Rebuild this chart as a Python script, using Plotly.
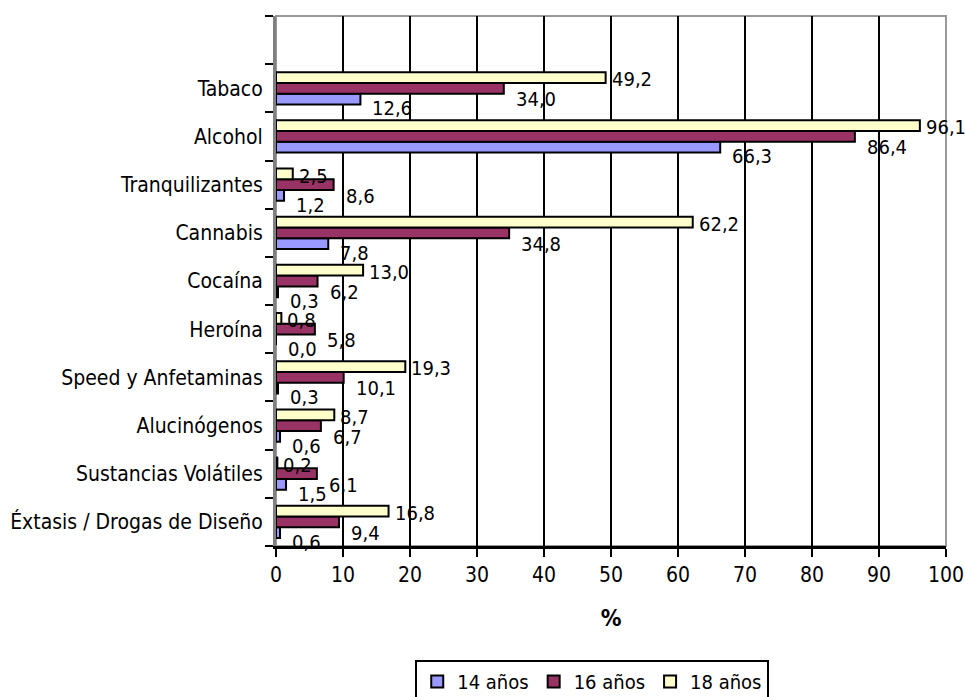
import plotly.graph_objects as go

categories = ["Éxtasis / Drogas de Diseño", "Sustancias Volátiles", "Alucinógenos",
              "Speed y Anfetaminas", "Heroína", "Cocaína", "Cannabis",
              "Tranquilizantes", "Alcohol", "Tabaco", " "]
v14 = [0.6, 1.5, 0.6, 0.3, 0.0, 0.3, 7.8, 1.2, 66.3, 12.6, None]
v16 = [9.4, 6.1, 6.7, 10.1, 5.8, 6.2, 34.8, 8.6, 86.4, 34.0, None]
v18 = [16.8, 0.2, 8.7, 19.3, 0.8, 13.0, 62.2, 2.5, 96.1, 49.2, None]
series_names = ["14 años", "16 años", "18 años"]
colors = ["#9999FF", "#993366", "#FFFFCC"]
x_ticks = list(range(0, 101, 10))

FONT = "DejaVu Sans Condensed, Liberation Sans, sans-serif"
FS = 21
fig = go.Figure()
for name, vals, col in zip(series_names, [v14, v16, v18], colors):
    fig.add_trace(go.Bar(
        y=categories, x=vals, name=name, orientation="h",
        marker=dict(color=col, line=dict(color="black", width=2)),
    ))

# label offsets per series (px): (xshift, yshift)
offsets = {"14 años": (10, -20), "16 años": (10, -11), "18 años": (4, 9)}
annotations = []
for name, vals in zip(series_names, [v14, v16, v18]):
    dx, dy = offsets[name]
    for cat, v in zip(categories, vals):
        if v is None:
            continue
        annotations.append(dict(
            x=v, y=cat, xref="x", yref="y", text=f"{v:.1f}".replace(".", ","),
            showarrow=False, xanchor="left", yanchor="middle",
            xshift=dx, yshift=dy, font=dict(family=FONT, size=20, color="black"),
        ))

fig.update_layout(
    width=965, height=697,
    margin=dict(l=276, r=19, t=16, b=151, autoexpand=False),
    paper_bgcolor="white", plot_bgcolor="white",
    barmode="group", bargap=0.33, bargroupgap=0,
    font=dict(family=FONT, size=FS, color="black"),
    showlegend=True,
    legend=dict(orientation="h", x=0.472, xanchor="center", y=-0.215, yanchor="top",
                bordercolor="black", borderwidth=2, font=dict(size=20),
                itemwidth=30, tracegroupgap=0),
    annotations=annotations,
    xaxis=dict(range=[0, 100], tickvals=x_ticks, showgrid=True, gridcolor="black",
               gridwidth=2, showline=True, linecolor="black", linewidth=3,
               ticks="outside", ticklen=8, tickwidth=2, tickcolor="black",
               title=dict(text="<b>%</b>", font=dict(size=23), standoff=24),
               zeroline=False, automargin=False),
    yaxis=dict(type="category", categoryorder="array", categoryarray=categories,
               range=[-0.5, 10.5], tickson="boundaries", ticks="outside", ticklen=8,
               tickwidth=2, tickcolor="black", showline=True, linecolor="#808080",
               linewidth=3, showgrid=False, ticklabelstandoff=6, automargin=False),
    shapes=[dict(type="rect", xref="paper", yref="paper", x0=0, x1=1, y0=0, y1=1,
                 line=dict(color="#999999", width=2), layer="below")],
)

fig.write_html("out.html")
